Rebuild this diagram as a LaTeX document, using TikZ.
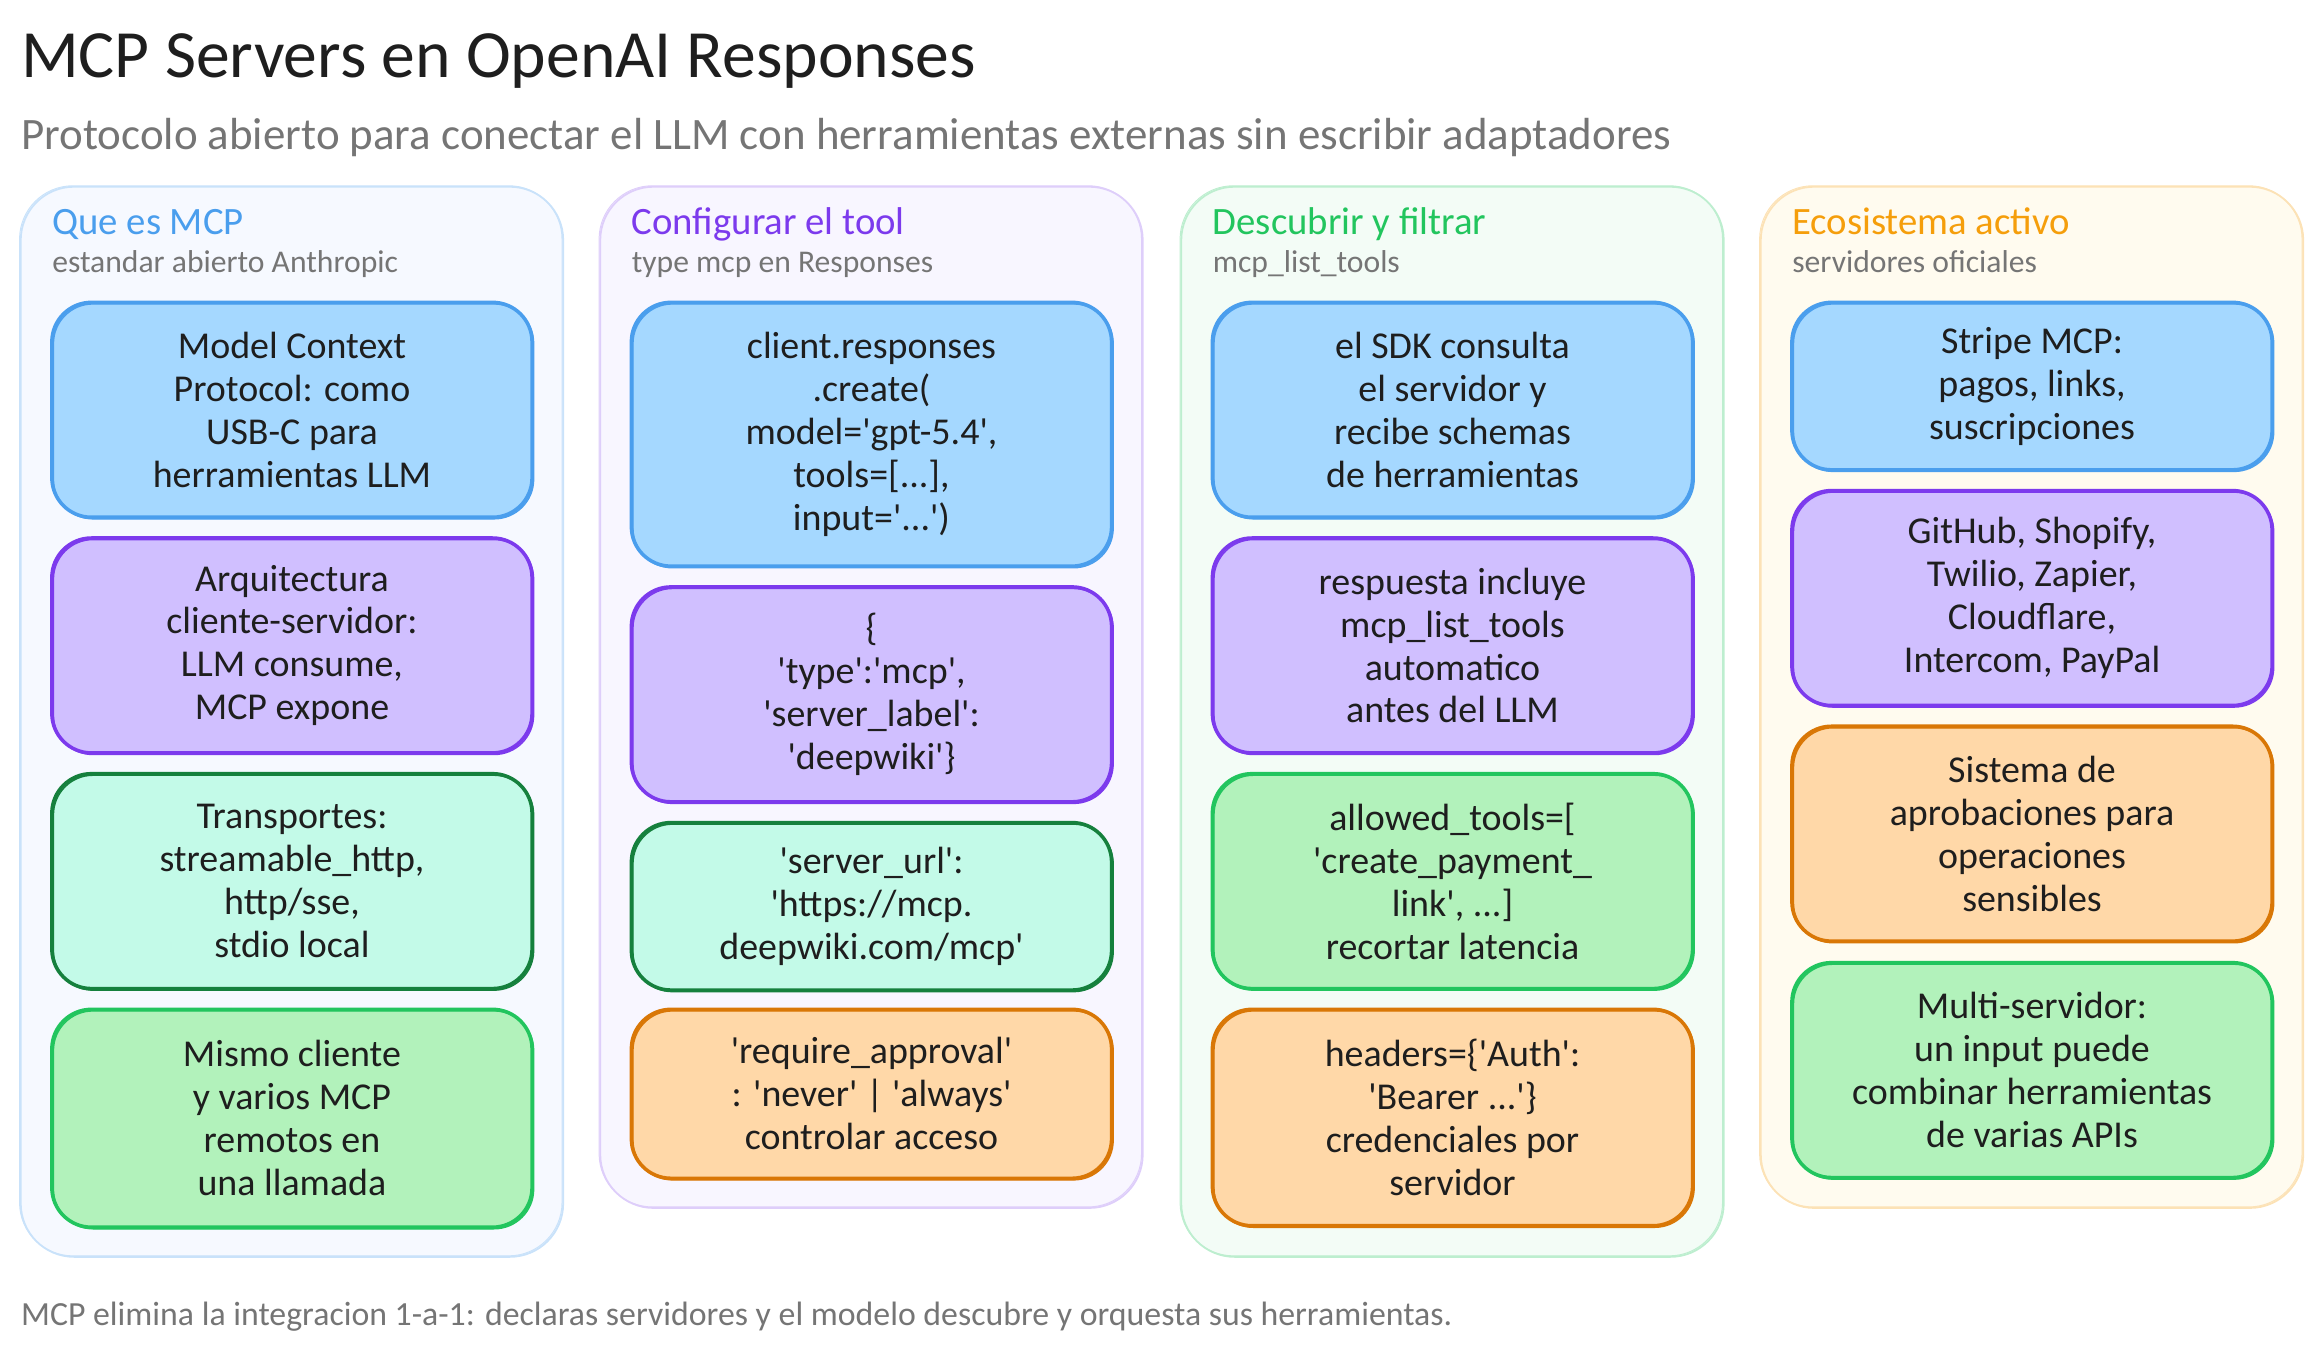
\documentclass[tikz,border=0pt]{standalone}
\usepackage{fontspec}
\newfontfamily\handfont{Carlito}
\definecolor{inkblack}{HTML}{1E1E1E}
\definecolor{inkgrey}{HTML}{757575}
\definecolor{blueline}{HTML}{4A9EED}
\definecolor{bluefill}{HTML}{A5D8FF}
\definecolor{purpleline}{HTML}{7C3AED}
\definecolor{purplefill}{HTML}{D0BFFF}
\definecolor{tealline}{HTML}{15803D}
\definecolor{tealfill}{HTML}{C3FAE8}
\definecolor{greenline}{HTML}{22C55E}
\definecolor{greenfill}{HTML}{B2F2BB}
\definecolor{orangeline}{HTML}{D97706}
\definecolor{orangefill}{HTML}{FFD8A8}
\definecolor{amber}{HTML}{F59E0B}
\definecolor{panelblue}{HTML}{F6F9FF}
\definecolor{panelpurple}{HTML}{F8F6FF}
\definecolor{panelgreen}{HTML}{F3FCF6}
\definecolor{panelamber}{HTML}{FFFBEF}
\tikzset{
  sketchbox/.style={rounded corners=20pt, line width=1.8pt, minimum width=243pt, inner sep=0pt,
    text=inkblack, align=center, font=\handfont\fontsize{19.2}{21.75}\selectfont,
    postaction={draw, line width=.7pt, transform canvas={xshift=.8pt,yshift=-.8pt}}},
  bluebox/.style={sketchbox, draw=blueline, fill=bluefill},
  purplebox/.style={sketchbox, draw=purpleline, fill=purplefill},
  tealbox/.style={sketchbox, draw=tealline, fill=tealfill},
  greenbox/.style={sketchbox, draw=greenline, fill=greenfill},
  orangebox/.style={sketchbox, draw=orangeline, fill=orangefill},
  panel/.style={rounded corners=27pt, line width=.9pt, minimum width=274.5pt, inner sep=0pt,
    postaction={draw, line width=.5pt, transform canvas={xshift=-.6pt,yshift=.5pt}}},
  paneltitle/.style={anchor=base west, inner sep=0pt, font=\handfont\fontsize{19.6}{22}\selectfont},
  panelsub/.style={anchor=base west, inner sep=0pt, text=inkgrey, font=\handfont\fontsize{16}{18}\selectfont},
}
\begin{document}
\begin{tikzpicture}[x=.75pt,y=-.75pt]
  \useasboundingbox (0,0) rectangle (1568,914.2);
  % Heading
  \node[anchor=base west, inner sep=0pt, text=inkblack, font=\handfont\fontsize{34.2}{40}\selectfont] (title) at (14,52) {MCP Servers en OpenAI Responses};
  \node[anchor=base west, inner sep=0pt, text=inkgrey, font=\handfont\fontsize{22.75}{26}\selectfont] (subtitle) at (14,101) {Protocolo abierto para conectar el LLM con herramientas externas sin escribir adaptadores};

  % Panels
  \node[panel, draw=blueline!30, fill=panelblue, minimum height=541.5pt] (panelmcp) at (197,487) {};
  \node[panel, draw=purpleline!25, fill=panelpurple, minimum height=516.75pt] (panelconfig) at (588,470.5) {};
  \node[panel, draw=greenline!30, fill=panelgreen, minimum height=541.5pt] (panelfilter) at (980,487) {};
  \node[panel, draw=amber!30, fill=panelamber, minimum height=516.75pt] (paneleco) at (1371,470.5) {};

  % Panel headings
  \node[paneltitle, text=blueline] (titlemcp) at (35,158) {Que es MCP};
  \node[panelsub] (submcp) at (35,184) {estandar abierto Anthropic};
  \node[paneltitle, text=purpleline] (titleconfig) at (426,158) {Configurar el tool};
  \node[panelsub] (subconfig) at (426,184) {type mcp en Responses};
  \node[paneltitle, text=greenline] (titlefilter) at (818,158) {Descubrir y filtrar};
  \node[panelsub] (subfilter) at (818,184) {mcp\_list\_tools};
  \node[paneltitle, text=amber] (titleeco) at (1209,158) {Ecosistema activo};
  \node[panelsub] (subeco) at (1209,184) {servidores oficiales};

  % First column
  \node[bluebox, minimum height=108.75pt] (usbc) at (197,276.5) {Model Context\\Protocol: como\\USB-C para\\herramientas LLM};
  \node[purplebox, minimum height=108.75pt] (arch) at (197,435.5) {Arquitectura\\cliente-servidor:\\LLM consume,\\MCP expone};
  \node[tealbox, minimum height=108.75pt] (transp) at (197,594.5) {Transportes:\\streamable\_http,\\http/sse,\\stdio local};
  \node[greenbox, minimum height=110.25pt] (client) at (197,754.5) {Mismo cliente\\y varios MCP\\remotos en\\una llamada};

  % Second column
  \node[bluebox, minimum height=133.5pt] (create) at (588,293) {client.responses\\.create(\\model='gpt-5.4',\\tools=[...],\\input='...')};
  \node[purplebox, minimum height=108.75pt] (tooltype) at (588,468.5) {\{\\'type':'mcp',\\'server\_label':\\'deepwiki'\}};
  \node[tealbox, minimum height=84.75pt] (url) at (588,611.5) {'server\_url':\\'https://mcp.\\deepwiki.com/mcp'};
  \node[orangebox, minimum height=85.5pt] (approval) at (588,738) {'require\_approval'\\: 'never' | 'always'\\controlar acceso};

  % Third column
  \node[bluebox, minimum height=108.75pt] (sdk) at (980,276.5) {el SDK consulta\\el servidor y\\recibe schemas\\de herramientas};
  \node[purplebox, minimum height=108.75pt] (listauto) at (980,435.5) {respuesta incluye\\mcp\_list\_tools\\automatico\\antes del LLM};
  \node[greenbox, minimum height=108.75pt] (allowed) at (980,594.5) {allowed\_tools=[\\'create\_payment\_\\link', ...]\\recortar latencia};
  \node[orangebox, minimum height=109.5pt] (headers) at (980,754) {headers=\{'Auth':\\'Bearer ...'\}\\credenciales por\\servidor};

  % Fourth column
  \node[bluebox, minimum height=84.75pt] (stripe) at (1371,260.5) {Stripe MCP:\\pagos, links,\\suscripciones};
  \node[purplebox, minimum height=108.75pt] (github) at (1371,403.5) {GitHub, Shopify,\\Twilio, Zapier,\\Cloudflare,\\Intercom, PayPal};
  \node[orangebox, minimum height=108.75pt] (approvals) at (1371,562.5) {Sistema de\\aprobaciones para\\operaciones\\sensibles};
  \node[greenbox, minimum height=108.75pt] (multi) at (1371,722) {Multi-servidor:\\un input puede\\combinar herramientas\\de varias APIs};

  % Footer
  \node[anchor=base west, inner sep=0pt, text=inkgrey, font=\handfont\fontsize{17.1}{20}\selectfont] (footer) at (14,894) {MCP elimina la integracion 1-a-1: declaras servidores y el modelo descubre y orquesta sus herramientas.};
\end{tikzpicture}
\end{document}
